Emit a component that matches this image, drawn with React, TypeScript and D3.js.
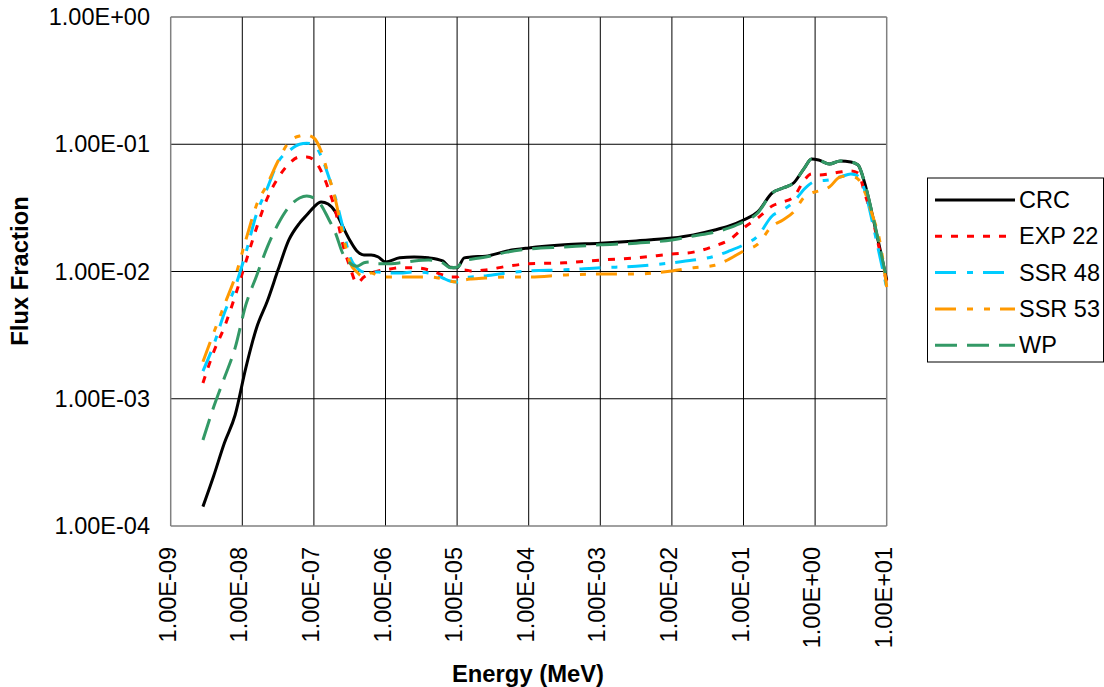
import React from "react";
import * as d3 from "d3";

const energies = [
  2.82e-9, 3.98e-9, 5.62e-9, 7.94e-9, 1.12e-8, 1.58e-8, 2.24e-8, 3.16e-8, 4.47e-8, 6.31e-8,
  7.94e-8, 1.0e-7, 1.26e-7, 1.58e-7, 2.0e-7, 2.51e-7, 3.16e-7, 3.98e-7, 5.01e-7, 6.31e-7,
  7.94e-7, 1.0e-6, 1.58e-6, 2.51e-6, 3.98e-6, 6.31e-6, 7.94e-6, 1.0e-5, 1.26e-5, 1.58e-5,
  2.51e-5, 5.01e-5, 1.0e-4, 3.16e-4, 1.0e-3, 3.16e-3, 1.0e-2, 2.0e-2, 3.98e-2, 6.31e-2,
  0.1, 0.158, 0.251, 0.355, 0.501, 0.708, 0.891, 1.12, 1.58, 2.24,
  3.16, 3.98, 5.01, 6.31, 7.94, 10,
];

const crc = [
  1.42e-4, 2.47e-4, 4.49e-4, 7.45e-4, 1.75e-3, 3.6e-3, 5.86e-3, 1.03e-2, 1.77e-2, 2.4e-2,
  2.78e-2, 3.21e-2, 3.52e-2, 3.39e-2, 2.94e-2, 2.28e-2, 1.77e-2, 1.45e-2, 1.35e-2, 1.35e-2,
  1.3e-2, 1.19e-2, 1.28e-2, 1.3e-2, 1.28e-2, 1.21e-2, 1.08e-2, 1.07e-2, 1.28e-2, 1.3e-2,
  1.32e-2, 1.45e-2, 1.53e-2, 1.62e-2, 1.67e-2, 1.74e-2, 1.83e-2, 1.94e-2, 2.12e-2, 2.28e-2,
  2.54e-2, 2.94e-2, 4.14e-2, 4.53e-2, 4.96e-2, 6.5e-2, 7.66e-2, 7.52e-2, 7.0e-2, 7.38e-2,
  7.26e-2, 6.87e-2, 4.79e-2, 2.78e-2, 1.56e-2, 8.57e-3,
];

const exp22 = [
  1.33e-3, 2.33e-3, 3.66e-3, 6.41e-3, 1.19e-2, 2.2e-2, 3.78e-2, 5.43e-2, 7.0e-2, 7.94e-2,
  7.94e-2, 7.52e-2, 6.17e-2, 4.53e-2, 2.99e-2, 1.67e-2, 1.1e-2, 8.13e-3, 9.06e-3, 9.73e-3,
  1.01e-2, 1.03e-2, 1.07e-2, 1.07e-2, 1.03e-2, 9.39e-3, 9.06e-3, 9.06e-3, 1.03e-2, 1.01e-2,
  1.03e-2, 1.1e-2, 1.15e-2, 1.17e-2, 1.23e-2, 1.28e-2, 1.37e-2, 1.42e-2, 1.59e-2, 1.77e-2,
  2.2e-2, 2.63e-2, 3.27e-2, 3.52e-2, 3.85e-2, 5.24e-2, 5.84e-2, 5.73e-2, 5.84e-2, 6.05e-2,
  6.17e-2, 5.94e-2, 3.99e-2, 2.63e-2, 1.48e-2, 8.13e-3,
];

const ssr48 = [
  1.65e-3, 2.64e-3, 4.72e-3, 7.55e-3, 1.4e-2, 2.83e-2, 4.53e-2, 7.26e-2, 8.85e-2, 1.0e-1,
  1.02e-1, 9.87e-2, 8.09e-2, 5.73e-2, 3.78e-2, 2.28e-2, 1.32e-2, 1.07e-2, 9.91e-3, 9.91e-3,
  9.91e-3, 9.73e-3, 9.73e-3, 9.91e-3, 9.73e-3, 8.89e-3, 8.41e-3, 8.27e-3, 8.89e-3, 9.06e-3,
  9.23e-3, 9.73e-3, 1.01e-2, 1.03e-2, 1.07e-2, 1.1e-2, 1.17e-2, 1.23e-2, 1.32e-2, 1.45e-2,
  1.62e-2, 1.9e-2, 2.73e-2, 3.04e-2, 3.52e-2, 4.45e-2, 4.96e-2, 5.14e-2, 5.24e-2, 5.53e-2,
  5.84e-2, 5.63e-2, 4.22e-2, 2.45e-2, 1.35e-2, 7.41e-3,
];

const ssr53 = [
  1.95e-3, 3.29e-3, 5.46e-3, 9.06e-3, 1.77e-2, 3.33e-2, 4.87e-2, 7.38e-2, 1.04e-1, 1.16e-1,
  1.18e-1, 1.12e-1, 8.85e-2, 5.84e-2, 3.65e-2, 2.01e-2, 1.19e-2, 9.91e-3, 9.06e-3, 9.73e-3,
  9.23e-3, 9.06e-3, 9.06e-3, 9.06e-3, 9.06e-3, 8.73e-3, 8.41e-3, 8.27e-3, 8.57e-3, 8.73e-3,
  8.89e-3, 9.06e-3, 9.06e-3, 9.39e-3, 9.55e-3, 9.55e-3, 1.01e-2, 1.07e-2, 1.12e-2, 1.25e-2,
  1.45e-2, 1.64e-2, 2.28e-2, 2.54e-2, 2.94e-2, 3.85e-2, 4.14e-2, 4.29e-2, 4.61e-2, 5.53e-2,
  5.63e-2, 5.33e-2, 4.14e-2, 2.78e-2, 1.77e-2, 7.55e-3,
];

const wp = [
  4.74e-4, 8.61e-4, 1.46e-3, 2.51e-3, 5.46e-3, 9.23e-3, 1.56e-2, 2.36e-2, 3.21e-2, 3.78e-2,
  3.92e-2, 3.78e-2, 3.33e-2, 2.63e-2, 2.01e-2, 1.4e-2, 1.17e-2, 1.1e-2, 1.17e-2, 1.19e-2,
  1.15e-2, 1.15e-2, 1.17e-2, 1.21e-2, 1.23e-2, 1.17e-2, 1.07e-2, 1.08e-2, 1.23e-2, 1.25e-2,
  1.3e-2, 1.42e-2, 1.5e-2, 1.56e-2, 1.62e-2, 1.67e-2, 1.77e-2, 1.9e-2, 2.04e-2, 2.2e-2,
  2.45e-2, 2.88e-2, 4.14e-2, 4.53e-2, 4.96e-2, 6.5e-2, 7.66e-2, 7.52e-2, 7.0e-2, 7.38e-2,
  7.26e-2, 6.87e-2, 4.79e-2, 2.83e-2, 1.59e-2, 8.57e-3,
];

const xTicks = [1e-9, 1e-8, 1e-7, 1e-6, 1e-5, 1e-4, 1e-3, 1e-2, 1e-1, 1e0, 1e1];
const xTickLabels = [
  "1.00E-09", "1.00E-08", "1.00E-07", "1.00E-06", "1.00E-05", "1.00E-04",
  "1.00E-03", "1.00E-02", "1.00E-01", "1.00E+00", "1.00E+01",
];
const yTicks = [1e-4, 1e-3, 1e-2, 1e-1, 1e0];
const yTickLabels = ["1.00E-04", "1.00E-03", "1.00E-02", "1.00E-01", "1.00E+00"];

const seriesNames = ["CRC", "EXP 22", "SSR 48", "SSR 53", "WP"];
const seriesValues = [crc, exp22, ssr48, ssr53, wp];
const seriesColors = ["#000000", "#FF0000", "#00CCFF", "#FF9900", "#339966"];
const seriesDash = ["", "7,9", "21,11,6,10", "21,11,6,11,6,10", "22,10"];

const W = 1104;
const H = 687;
const L = 170.7;
const R = 886.7;
const T = 17;
const B = 526;
const FONT = "'Liberation Sans', Arial, sans-serif";

export default function App() {
  const x = d3.scaleLog().domain([1e-9, 10]).range([L, R]);
  const y = d3.scaleLog().domain([1e-4, 1]).range([B, T]);
  const line = d3
    .line<[number, number]>()
    .x((d) => x(d[0]))
    .y((d) => y(d[1]))
    .curve(d3.curveMonotoneX);

  const legendX = 935;
  const legendY0 = 200;
  const legendStep = 36.3;

  return (
    <svg
      width={W}
      height={H}
      style={{ position: "absolute", left: 0, top: 0, background: "#fff" }}
      fontFamily={FONT}
    >
      <rect x={0} y={0} width={W} height={H} fill="#fff" />
      {/* grid */}
      {xTicks.slice(1, -1).map((t, i) => (
        <line key={"gx" + i} x1={x(t)} x2={x(t)} y1={T} y2={B} stroke="#000" strokeWidth={1} />
      ))}
      {yTicks.slice(1, -1).map((t, i) => (
        <line key={"gy" + i} x1={L} x2={R} y1={y(t)} y2={y(t)} stroke="#000" strokeWidth={1} />
      ))}
      <line x1={L} x2={R} y1={T} y2={T} stroke="#333" strokeWidth={1.2} />
      <line x1={L} x2={L} y1={T} y2={B} stroke="#808080" strokeWidth={1.5} />
      <line x1={L} x2={R} y1={B} y2={B} stroke="#808080" strokeWidth={1.5} />
      <line x1={R} x2={R} y1={T} y2={B} stroke="#808080" strokeWidth={1.5} />

      {/* series */}
      {seriesValues.map((vals, si) => {
        const pts: [number, number][] = energies.map((e, i) => [e, vals[i]]);
        return (
          <path
            key={"s" + si}
            d={line(pts) || ""}
            fill="none"
            stroke={seriesColors[si]}
            strokeWidth={3}
            strokeDasharray={seriesDash[si] || undefined}
            strokeLinejoin="round"
          />
        );
      })}

      {/* y tick labels */}
      {yTicks.map((t, i) => (
        <text key={"yl" + i} x={150} y={y(t) + 8} fontSize={23.5} textAnchor="end" fill="#000">
          {yTickLabels[i]}
        </text>
      ))}
      {/* x tick labels */}
      {xTicks.map((t, i) => (
        <text
          key={"xl" + i}
          transform={`translate(${x(t) + 5},547) rotate(-90)`}
          fontSize={23.5}
          textAnchor="end"
          fill="#000"
        >
          {xTickLabels[i]}
        </text>
      ))}

      {/* axis titles */}
      <text x={528} y={682} fontSize={23.8} fontWeight="bold" textAnchor="middle" fill="#000">
        Energy (MeV)
      </text>
      <text
        transform={`translate(28,271) rotate(-90)`}
        fontSize={23.8}
        fontWeight="bold"
        textAnchor="middle"
        fill="#000"
      >
        Flux Fraction
      </text>

      {/* legend */}
      <rect x={927.5} y={178} width={176} height={184} fill="#fff" stroke="#000" strokeWidth={1} />
      {seriesNames.map((name, i) => {
        const ly = legendY0 + i * legendStep;
        return (
          <g key={"lg" + i}>
            <line
              x1={legendX}
              x2={1015}
              y1={ly}
              y2={ly}
              stroke={seriesColors[i]}
              strokeWidth={3}
              strokeDasharray={seriesDash[i] || undefined}
            />
            <text x={1019} y={ly + 8} fontSize={23.5} fill="#000">
              {name}
            </text>
          </g>
        );
      })}
    </svg>
  );
}
